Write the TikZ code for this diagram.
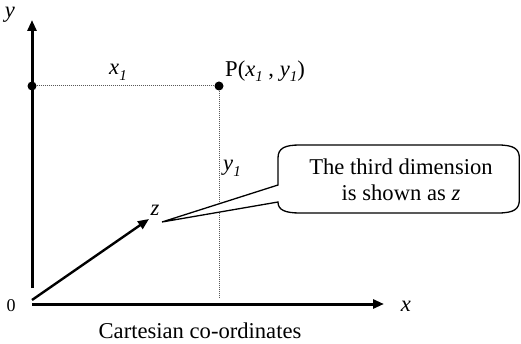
\documentclass[tikz,border=0pt]{standalone}
\usepackage{fontspec}
\setmainfont{Liberation Serif}
\usetikzlibrary{arrows.meta}
\newcommand{\sub}[1]{\raisebox{-0.25em}{\fontsize{15}{15}\selectfont\itshape #1}}
\tikzset{
  axis/.style={line width=3pt,-{Triangle[length=11pt,width=9pt]}},
  zaxis/.style={line width=2.4pt,-{Triangle[length=11pt,width=9pt]}},
  dotline/.style={line width=1pt,gray!70!black,dash pattern=on 1pt off 1pt},
  dot/.style={circle,fill=black,inner sep=0pt,minimum size=9pt},
  lbl/.style={inner sep=0pt,font=\fontsize{22.6}{26.5}\selectfont},
  callout/.style={line width=1.3pt,fill=white}
}
\begin{document}
\begin{tikzpicture}[x=1pt,y=-1pt]
\useasboundingbox (0,0) rectangle (521,344);
% axes
\coordinate (ytop) at (32,20);
\coordinate (ybot) at (32,288);
\coordinate (xl) at (32,304);
\coordinate (xr) at (384,304);
\coordinate (zs) at (32,300);
\coordinate (zt) at (149,219);
\draw[axis] (ybot) -- (ytop);
\draw[axis] (xl) -- (xr);
\draw[zaxis] (zs) -- (zt);
% dots and dotted guides
\node[dot] (yd) at (32,86) {};
\node[dot] (P) at (219,86) {};
\coordinate (Pfoot) at (219,297);
\draw[dotline] (yd) -- (P);
\draw[dotline] (P) -- (Pfoot);
% labels
\node[lbl] (ylab) at (10,15) {\itshape y};
\node[lbl,font=\fontsize{18}{20}\selectfont] (zero) at (11,306) {0};
\node[lbl] (xlab) at (406,306) {\itshape x};
\node[lbl] (x1lab) at (118,72) {\itshape x\sub{1}};
\node[lbl,anchor=west] (Plab) at (225,71) {P(\textit{x}\sub{1} , \textit{y}\sub{1})};
\node[lbl] (y1lab) at (232,168) {\itshape y\sub{1}};
\node[lbl] (zlab) at (155,210) {\itshape z};
\node[lbl] (cart) at (200,331) {Cartesian co-ordinates};
% callout
\coordinate (tip) at (162,222);
\coordinate (wa) at (278,185);
\coordinate (wb) at (278,202);
\draw[callout] (wa) -- (tip) -- (wb)
  .. controls (278,210) and (285,213) .. (300,213)
  -- (498,213) .. controls (514,213) and (519.3,209) .. (519.3,200)
  -- (519.3,158) .. controls (519.3,149) and (514,145) .. (498,145)
  -- (300,145) .. controls (285,145) and (278,148) .. (278,158)
  -- cycle;
\node[lbl,align=center] (note) at (401,180) {The third dimension\\is shown as \textit{z}};
\end{tikzpicture}
\end{document}
